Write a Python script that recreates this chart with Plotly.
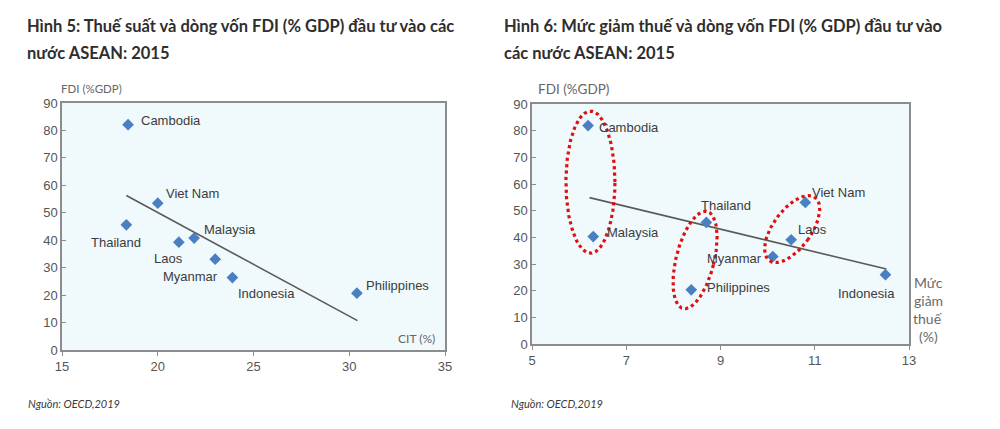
import numpy as np
import plotly.graph_objects as go

# page body has a default 8px margin; keep the figure inside the 1000x429 window
OFF = 8
W, H = 1000 - OFF, 429 - OFF

# ---------------- data ----------------
countries_left = ["Cambodia", "Viet Nam", "Thailand", "Laos", "Malaysia", "Myanmar", "Indonesia", "Philippines"]
cit_rate = [18.45, 20.0, 18.36, 21.1, 21.9, 23.0, 23.9, 30.4]
fdi_left = [82.1, 53.5, 45.6, 39.3, 40.8, 33.1, 26.4, 20.7]
trend_left_x = [18.36, 30.43]
trend_left_y = [56.3, 10.7]

countries_right = ["Cambodia", "Malaysia", "Thailand", "Philippines", "Myanmar", "Laos", "Viet Nam", "Indonesia"]
tax_cut = [6.19, 6.30, 8.70, 8.38, 10.11, 10.50, 10.80, 12.50]
fdi_right = [81.9, 40.3, 45.6, 20.3, 32.8, 39.1, 53.1, 26.0]
trend_right_x = [6.22, 12.52]
trend_right_y = [54.9, 28.1]

x_ticks_left = [15, 20, 25, 30, 35]
x_ticks_right = [5, 7, 9, 11, 13]
y_ticks = [0, 10, 20, 30, 40, 50, 60, 70, 80, 90]

title_left = ["Hình 5: Thuế suất và dòng vốn FDI (% GDP) đầu tư vào các", "nước ASEAN: 2015"]
title_right = ["Hình 6: Mức giảm thuế và dòng vốn FDI (% GDP) đầu tư vào", "các nước ASEAN: 2015"]
source_text = "Nguồn: OECD,2019"

# ---------------- styling / placement ----------------
PLOT_BG = "#f0f9fb"
BORDER = "#8c8c8c"
MARKER_COLOR = "#4a7fc1"
LINE_COLOR = "#5a5a5a"
TEXT_COLOR = "#3c3c3c"
TICK_COLOR = "#555555"
LABEL_FONT = "Liberation Sans, Arial, sans-serif"
TITLE_FONT = "Lato, Open Sans, sans-serif"

# (xanchor, xshift, yshift) per label
place_left = {
    "Cambodia": ("left", 11, 4),
    "Viet Nam": ("left", 6, 10),
    "Thailand": ("center", -10, -18),
    "Laos": ("center", -10, -16),
    "Malaysia": ("left", 8, 9),
    "Myanmar": ("right", 5, -17),
    "Indonesia": ("left", 4, -16),
    "Philippines": ("left", 7, 8),
}
place_right = {
    "Cambodia": ("left", 9, -2),
    "Malaysia": ("left", 12, 4),
    "Thailand": ("left", -7, 17),
    "Philippines": ("left", 14, 2),
    "Myanmar": ("right", -9, -2),
    "Laos": ("left", 5, 10),
    "Viet Nam": ("left", 5, 10),
    "Indonesia": ("right", 12, -19),
}

def pxx(px):
    return (px - OFF) / W

def pxy(py):
    return 1 - (py - OFF) / H

def px_dom_x(a, b):
    return [pxx(a), pxx(b)]

def px_dom_y(top, bottom):
    return [pxy(bottom), pxy(top)]

# highlight ellipses on right chart: center (data), semi-axes (px), tilt (deg, clockwise from vertical)
ellipses = [
    (6.24, 60.7, 24.5, 71, 0),
    (8.46, 31.5, 19, 50, 14),
    (10.52, 43.1, 19, 39, 36),
]

fig = go.Figure()

fig.add_trace(go.Scatter(x=trend_left_x, y=trend_left_y, mode="lines",
                         line=dict(color=LINE_COLOR, width=1.6), xaxis="x", yaxis="y",
                         hoverinfo="skip", showlegend=False))
fig.add_trace(go.Scatter(x=cit_rate, y=fdi_left, mode="markers", text=countries_left,
                         marker=dict(symbol="diamond", size=9, color=MARKER_COLOR),
                         xaxis="x", yaxis="y", showlegend=False))

fig.add_trace(go.Scatter(x=trend_right_x, y=trend_right_y, mode="lines",
                         line=dict(color=LINE_COLOR, width=1.6), xaxis="x2", yaxis="y2",
                         hoverinfo="skip", showlegend=False))
fig.add_trace(go.Scatter(x=tax_cut, y=fdi_right, mode="markers", text=countries_right,
                         marker=dict(symbol="diamond", size=9, color=MARKER_COLOR),
                         xaxis="x2", yaxis="y2", showlegend=False))

R_LEFT, R_RIGHT, R_TOP, R_BOTTOM = 532, 909, 104, 344
px_per_x = (R_RIGHT - R_LEFT) / (x_ticks_right[-1] - x_ticks_right[0])
px_per_y = (R_BOTTOM - R_TOP) / (y_ticks[-1] - y_ticks[0])
t = np.linspace(0, 2 * np.pi, 200)
for cx, cy, a, b, ang in ellipses:
    th = np.deg2rad(ang)
    ex = a * np.cos(t)
    ey = b * np.sin(t)
    rx = ex * np.cos(th) + ey * np.sin(th)
    ry = -ex * np.sin(th) + ey * np.cos(th)
    fig.add_trace(go.Scatter(x=cx + rx / px_per_x, y=cy + ry / px_per_y, mode="lines",
                             line=dict(color="#e01010", width=3.2, dash="dot"),
                             xaxis="x2", yaxis="y2", hoverinfo="skip", showlegend=False))

annotations = []
for name, xv, yv in zip(countries_left, cit_rate, fdi_left):
    xa, xs, ys = place_left[name]
    annotations.append(dict(x=xv, y=yv, xref="x", yref="y", text=name, showarrow=False,
                            xanchor=xa, yanchor="middle", xshift=xs, yshift=ys,
                            font=dict(family=LABEL_FONT, size=13, color=TEXT_COLOR)))
for name, xv, yv in zip(countries_right, tax_cut, fdi_right):
    xa, xs, ys = place_right[name]
    annotations.append(dict(x=xv, y=yv, xref="x2", yref="y2", text=name, showarrow=False,
                            xanchor=xa, yanchor="middle", xshift=xs, yshift=ys,
                            font=dict(family=LABEL_FONT, size=13, color=TEXT_COLOR)))

def paper_ann(text, px, py, size, color, family, xanchor="left", bold=False, italic=False):
    if bold:
        text = "<b>" + text + "</b>"
    if italic:
        text = "<i>" + text + "</i>"
    return dict(x=pxx(px), y=pxy(py), xref="paper", yref="paper", text=text, showarrow=False,
                xanchor=xanchor, yanchor="middle", font=dict(family=family, size=size, color=color))

annotations.append(paper_ann(title_left[0], 25, 26, 16.5, "#2e2e2e", TITLE_FONT, bold=True))
annotations.append(paper_ann(title_left[1], 25, 53, 16.5, "#2e2e2e", TITLE_FONT, bold=True))
annotations.append(paper_ann(title_right[0], 502, 26, 16.5, "#2e2e2e", TITLE_FONT, bold=True))
annotations.append(paper_ann(title_right[1], 502, 53, 16.5, "#2e2e2e", TITLE_FONT, bold=True))
annotations.append(paper_ann("FDI (%GDP)", 59, 89, 11.5, "#666666", TITLE_FONT))
annotations.append(paper_ann("FDI (%GDP)", 536, 89, 13.5, "#666666", TITLE_FONT))
annotations.append(paper_ann("CIT (%)", 396, 338, 12, "#666666", TITLE_FONT))
for i, word in enumerate(["Mức", "giảm", "thuế", "(%)"]):
    annotations.append(paper_ann(word, 928, 282 + i * 18.3, 14, "#6a6a6a", TITLE_FONT, xanchor="center"))
annotations.append(paper_ann(source_text, 26, 403, 11, "#3a3a3a", TITLE_FONT, italic=True))
annotations.append(paper_ann(source_text, 509, 403, 11, "#3a3a3a", TITLE_FONT, italic=True))

axis_common = dict(showgrid=False, zeroline=False, showline=True, mirror=True,
                   linecolor=BORDER, linewidth=1.5, automargin=False,
                   tickfont=dict(family=LABEL_FONT, size=13, color=TICK_COLOR), ticklen=4,
                   tickcolor=BORDER)

fig.update_layout(
    width=W, height=H,
    margin=dict(l=0, r=0, t=0, b=0, pad=0),
    paper_bgcolor="white",
    plot_bgcolor=PLOT_BG,
    showlegend=False,
    xaxis=dict(domain=px_dom_x(62, 445), range=[x_ticks_left[0], x_ticks_left[-1]],
               tickvals=x_ticks_left, ticks="outside", anchor="y", **axis_common),
    yaxis=dict(domain=px_dom_y(103, 350), range=[y_ticks[0], y_ticks[-1]],
               tickvals=y_ticks, ticks="inside", anchor="x", **axis_common),
    xaxis2=dict(domain=px_dom_x(R_LEFT, R_RIGHT), range=[x_ticks_right[0], x_ticks_right[-1]],
                tickvals=x_ticks_right, ticks="outside", anchor="y2", **axis_common),
    yaxis2=dict(domain=px_dom_y(R_TOP, R_BOTTOM), range=[y_ticks[0], y_ticks[-1]],
                tickvals=y_ticks, ticks="inside", anchor="x2", **axis_common),
    annotations=annotations,
)

fig.write_html("out.html")
